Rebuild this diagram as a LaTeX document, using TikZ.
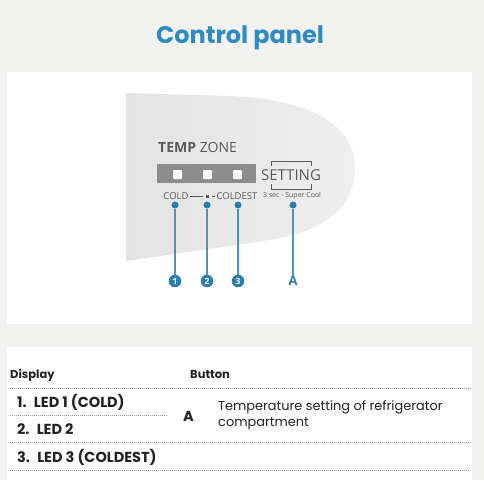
\documentclass[tikz,border=0pt]{standalone}
\usepackage{fontspec}
\setmainfont{Poppins}
\newfontfamily\panelfont{Open Sans}
\definecolor{bgc}{HTML}{F2F2F1}
\definecolor{titleblue}{HTML}{2F8AC0}
\definecolor{lineblue}{HTML}{4A94C4}
\definecolor{dotblue}{HTML}{2B7DB0}
\definecolor{ledbar}{HTML}{8C8C8C}
\definecolor{paneltext}{HTML}{5A5A5A}
\definecolor{tabtext}{HTML}{222222}
\definecolor{rulec}{HTML}{9A9A9A}
\definecolor{panelL}{HTML}{E3E3E3}
\definecolor{panelR}{HTML}{EFEFEF}
\tikzset{
  dotnode/.style={circle,fill=dotblue,inner sep=0pt,minimum size=7pt},
  numnode/.style={circle,fill=dotblue,inner sep=0pt,minimum size=12.5pt,text=white,font=\panelfont\bfseries\fontsize{8.5}{9}\selectfont},
  leader/.style={draw=lineblue,line width=1.4pt},
  ledsq/.style={fill=white,rounded corners=1pt},
  tabrule/.style={draw=rulec,line width=0.7pt,dash pattern=on 1pt off 1pt},
  tabhead/.style={anchor=west,inner sep=0pt,text=tabtext,font=\bfseries\fontsize{11.5}{13}\selectfont},
  tabrow/.style={anchor=west,inner sep=0pt,text=tabtext,font=\bfseries\fontsize{14.5}{16}\selectfont},
  tabplain/.style={anchor=west,inner sep=0pt,text=tabtext,align=left,font=\fontsize{12.9}{16}\selectfont},
  ptext/.style={inner sep=0pt,text=paneltext},
}
\begin{document}
\begin{tikzpicture}[x=1pt,y=-1pt]
\fill[bgc] (0,0) rectangle (484,480);
\useasboundingbox (0,0) rectangle (484,480);
\fill[white] (7,72) rectangle (472,324);
\fill[white] (7,347) rectangle (472,480);
\node[text=titleblue,inner sep=0pt,font=\bfseries\fontsize{24}{28}\selectfont] (title) at (240,38) {Control panel};
% panel shape
\shade[left color=panelL,right color=panelR]
  (126,93) -- (230,96) .. controls (320,100) and (355,130) .. (355,168)
  .. controls (355,210) and (320,232) .. (270,240) -- (126,261) -- cycle;
% TEMP ZONE
\node[ptext,anchor=west,font=\panelfont\fontsize{14}{16}\selectfont] (tz) at (158,147) {\textbf{TEMP} ZONE};
% LED bar
\fill[ledbar] (157,164) rectangle (256,183);
\fill[ledsq] (173,170) rectangle (182,179);
\fill[ledsq] (203,170) rectangle (212,179);
\fill[ledsq] (233,170) rectangle (242,179);
% SETTING
\node[ptext,font=\panelfont\fontsize{15}{17}\selectfont] (set) at (291,175) {SETTING};
\draw[paneltext,line width=0.8pt] (271,166) -- (271,161) -- (311,161) -- (311,166);
\draw[paneltext,line width=0.8pt] (271,184) -- (271,189) -- (311,189) -- (311,184);
% label row
\node[ptext,font=\panelfont\fontsize{9.5}{11}\selectfont] (cold) at (176,196) {COLD};
\draw[paneltext,line width=0.6pt] (190,196) -- (203,196);
\fill[paneltext] (205.5,194.5) rectangle (208.5,197.5);
\draw[paneltext,line width=0.6pt] (212,196) -- (215,196);
\node[ptext,font=\panelfont\fontsize{9.5}{11}\selectfont] (coldest) at (237,196) {COLDEST};
\node[ptext,font=\panelfont\fontsize{7}{8}\selectfont] (sc) at (292,196) {3 sec - Super Cool};
% dots, leaders, numbers
\node[dotnode] (d1) at (175,205) {};
\node[dotnode] (d2) at (207,205) {};
\node[dotnode] (d3) at (238,205) {};
\node[dotnode] (dA) at (293,205) {};
\node[numnode] (n1) at (175,281) {1};
\node[numnode] (n2) at (207,281) {2};
\node[numnode] (n3) at (238,281) {3};
\node[inner sep=0.5pt,text=dotblue,font=\panelfont\bfseries\fontsize{13}{14}\selectfont] (nA) at (293,281) {A};
\draw[leader] (d1) -- (n1);
\draw[leader] (d2) -- (n2);
\draw[leader] (d3) -- (n3);
\draw[leader] (dA) -- (nA);
% table
\node[tabhead] (hd) at (10,375) {Display};
\node[tabhead] (hb) at (190,375) {Button};
\coordinate (r0l) at (10,388); \coordinate (r0r) at (470,388);
\coordinate (r1l) at (10,415); \coordinate (r1r) at (168,415);
\coordinate (r2l) at (10,442); \coordinate (r2r) at (470,442);
\coordinate (r3l) at (10,470); \coordinate (r3r) at (470,470);
\draw[tabrule] (r0l) -- (r0r);
\draw[tabrule] (r1l) -- (r1r);
\draw[tabrule] (r2l) -- (r2r);
\draw[tabrule] (r3l) -- (r3r);
\node[tabrow] (l1) at (17,402) {1.\enspace LED 1 (COLD)};
\node[tabrow] (l2) at (17,429) {2.\enspace LED 2};
\node[tabrow] (l3) at (17,457) {3.\enspace LED 3 (COLDEST)};
\node[tabrow] (bA) at (183,416) {A};
\node[tabplain] (desc) at (218,415) {Temperature setting of refrigerator\\compartment};
\end{tikzpicture}
\end{document}
